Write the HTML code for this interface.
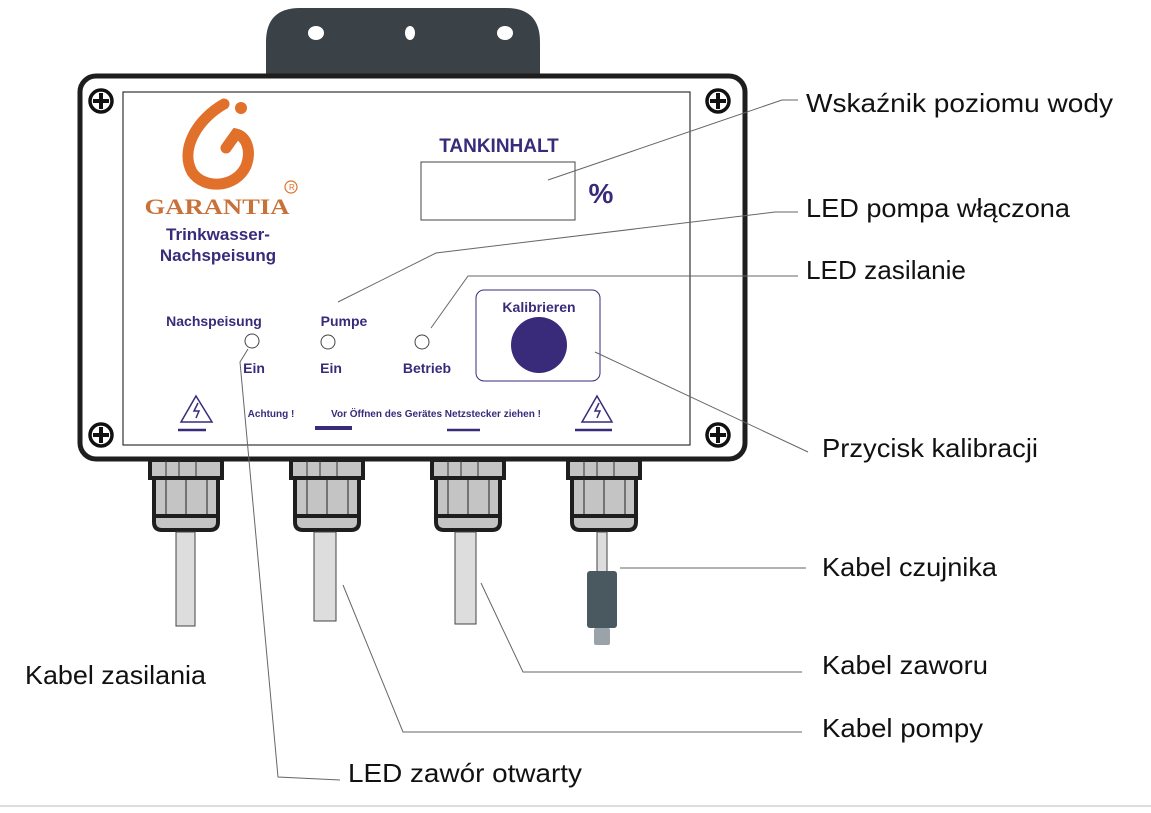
<!DOCTYPE html>
<html><head><meta charset="utf-8"><style>
html,body{margin:0;padding:0;background:#fff;width:1151px;height:813px;overflow:hidden}
svg{display:block}
.lbl{font-family:"Liberation Sans",sans-serif;font-size:26px;fill:#111}
.p{font-family:"Liberation Sans",sans-serif;fill:#3a2a7a;font-weight:bold}
</style></head><body>
<svg width="1151" height="813" viewBox="0 0 1151 813">
<!-- bracket -->
<path d="M266,80 L266,42 Q266,8 300,8 L506,8 Q540,8 540,42 L540,80 Z" fill="#3a4248"/>
<ellipse cx="316" cy="33" rx="8" ry="7" fill="#fff"/>
<ellipse cx="410" cy="33" rx="5" ry="7" fill="#fff"/>
<ellipse cx="505" cy="33" rx="8" ry="7" fill="#fff"/>
<!-- main box -->
<rect x="80" y="76" width="665" height="383" rx="16" fill="#fff" stroke="#1e1e1e" stroke-width="5"/>
<rect x="123" y="92" width="567" height="353" fill="#fff" stroke="#333" stroke-width="1.2"/>
<!-- screws -->
<g fill="#fff" stroke="#111" stroke-width="3.5">
<circle cx="101" cy="101" r="11"/><circle cx="718" cy="101" r="11"/><circle cx="101" cy="435" r="11"/><circle cx="718" cy="435" r="11"/>
</g>
<g stroke="#111" stroke-width="4">
<path d="M93,101h16M101,93v16M710,101h16M718,93v16M93,435h16M101,427v16M710,435h16M718,427v16"/>
</g>
<!-- logo -->
<path d="M224,104 C196,120 180,150 192,172 C204,190 236,188 246,166 C252,150 246,136 236,134 L226,148" fill="none" stroke="#e0702a" stroke-width="11" stroke-linecap="round"/>
<circle cx="241" cy="108" r="6" fill="#e0702a"/>
<circle cx="291" cy="187" r="6" fill="none" stroke="#e0702a" stroke-width="1.2"/>
<text x="289" y="190" font-family="Liberation Sans" font-size="8" fill="#e0702a">R</text>
<text x="217" y="214" text-anchor="middle" font-family="Liberation Serif" font-weight="bold" font-size="22" fill="#c8723a" textLength="145" lengthAdjust="spacingAndGlyphs">GARANTIA</text>
<text x="218" y="240" text-anchor="middle" class="p" font-size="17">Trinkwasser-</text>
<text x="218" y="261" text-anchor="middle" class="p" font-size="17">Nachspeisung</text>
<!-- display -->
<text x="499" y="152" text-anchor="middle" class="p" font-size="19">TANKINHALT</text>
<rect x="421" y="162" width="154" height="58" fill="#fff" stroke="#444" stroke-width="1"/>
<text x="601" y="203" text-anchor="middle" class="p" font-size="28">%</text>
<!-- LEDs -->
<text x="214" y="326" text-anchor="middle" class="p" font-size="14">Nachspeisung</text>
<text x="344" y="326" text-anchor="middle" class="p" font-size="14">Pumpe</text>
<g fill="#fff" stroke="#444" stroke-width="1"><ellipse cx="252" cy="341" rx="7" ry="7"/><ellipse cx="328" cy="342" rx="7" ry="7"/><ellipse cx="422" cy="342" rx="7" ry="7"/></g>
<text x="254" y="373" text-anchor="middle" class="p" font-size="14">Ein</text>
<text x="331" y="373" text-anchor="middle" class="p" font-size="14">Ein</text>
<text x="427" y="373" text-anchor="middle" class="p" font-size="14">Betrieb</text>
<rect x="476" y="290" width="124" height="91" rx="8" fill="#fff" stroke="#3a2a7a" stroke-width="1"/>
<text x="539" y="312" text-anchor="middle" class="p" font-size="14">Kalibrieren</text>
<circle cx="539" cy="345" r="28" fill="#3a2a7a"/>
<!-- warnings -->
<g fill="none" stroke="#3a2a7a" stroke-width="1.5"><path d="M196,396 L212,422 L181,422 Z M597,396 L612,422 L582,422 Z"/><path d="M198,403 L194,411 L199,411 L196,418 M599,403 L595,411 L600,411 L597,418"/></g>
<text x="271" y="417" text-anchor="middle" class="p" font-size="10" font-weight="normal">Achtung !</text>
<text x="436" y="417" text-anchor="middle" class="p" font-size="10" font-weight="normal">Vor Öffnen des Gerätes Netzstecker ziehen !</text>
<g stroke="#3a2a7a"><path d="M178,430h28M447,430h33M575,430h37" stroke-width="2.5"/><path d="M315,428h37" stroke-width="4"/></g>
<!-- glands -->
<g id="gl">
<rect x="150" y="460" width="72" height="18" fill="#c4c4c4" stroke="#1e1e1e" stroke-width="4"/>
<path d="M166,460v18M179,460v18M196,460v18" stroke="#333" stroke-width="1"/>
<path d="M154,478 L154,522 Q154,530 162,530 L210,530 Q218,530 218,522 L218,478 Z" fill="#c4c4c4" stroke="#1e1e1e" stroke-width="4"/>
<path d="M166,478v37M186,478v37M207,478v37" stroke="#222" stroke-width="1"/>
<path d="M156,516h60" stroke="#1e1e1e" stroke-width="4"/>
</g>
<use href="#gl" x="141"/><use href="#gl" x="282"/><use href="#gl" x="418"/>
<g fill="#ddd" stroke="#444" stroke-width="1"><rect x="176" y="532" width="19" height="94"/><rect x="314" y="532" width="22" height="89"/><rect x="455" y="532" width="21" height="92"/><rect x="597" y="532" width="10" height="40"/></g>
<rect x="587" y="571" width="30" height="57" rx="3" fill="#4a5860"/>
<rect x="594" y="628" width="16" height="17" rx="2" fill="#9aa3aa"/>
<!-- leaders -->
<g fill="none" stroke="#666" stroke-width="1">
<path d="M548,180 L782,100 L798,100"/>
<path d="M338,302 L436,253 L775,212 L798,212"/>
<path d="M431,328 L468,276 L798,276"/>
<path d="M595,352 L808,452"/>
<path d="M620,568 L806,568"/>
<path d="M481,583 L523,672 L802,672"/>
<path d="M343,585 L403,732 L802,732"/>
<path d="M248,349 L240,362 L278,777 L340,780"/>
</g>
<!-- labels -->
<text x="806" y="112" class="lbl" textLength="307" lengthAdjust="spacingAndGlyphs">Wskaźnik poziomu wody</text>
<text x="806" y="217" class="lbl" textLength="264" lengthAdjust="spacingAndGlyphs">LED pompa włączona</text>
<text x="806" y="279" class="lbl" textLength="160" lengthAdjust="spacingAndGlyphs">LED zasilanie</text>
<text x="822" y="457" class="lbl" textLength="216" lengthAdjust="spacingAndGlyphs">Przycisk kalibracji</text>
<text x="822" y="576" class="lbl" textLength="175" lengthAdjust="spacingAndGlyphs">Kabel czujnika</text>
<text x="822" y="674" class="lbl" textLength="166" lengthAdjust="spacingAndGlyphs">Kabel zaworu</text>
<text x="822" y="737" class="lbl" textLength="161" lengthAdjust="spacingAndGlyphs">Kabel pompy</text>
<text x="25" y="684" class="lbl" textLength="181" lengthAdjust="spacingAndGlyphs">Kabel zasilania</text>
<text x="348" y="782" class="lbl" textLength="234" lengthAdjust="spacingAndGlyphs">LED zawór otwarty</text>
<path d="M0,806h1151" stroke="#ddd" stroke-width="2"/>
</svg>
</body></html>
